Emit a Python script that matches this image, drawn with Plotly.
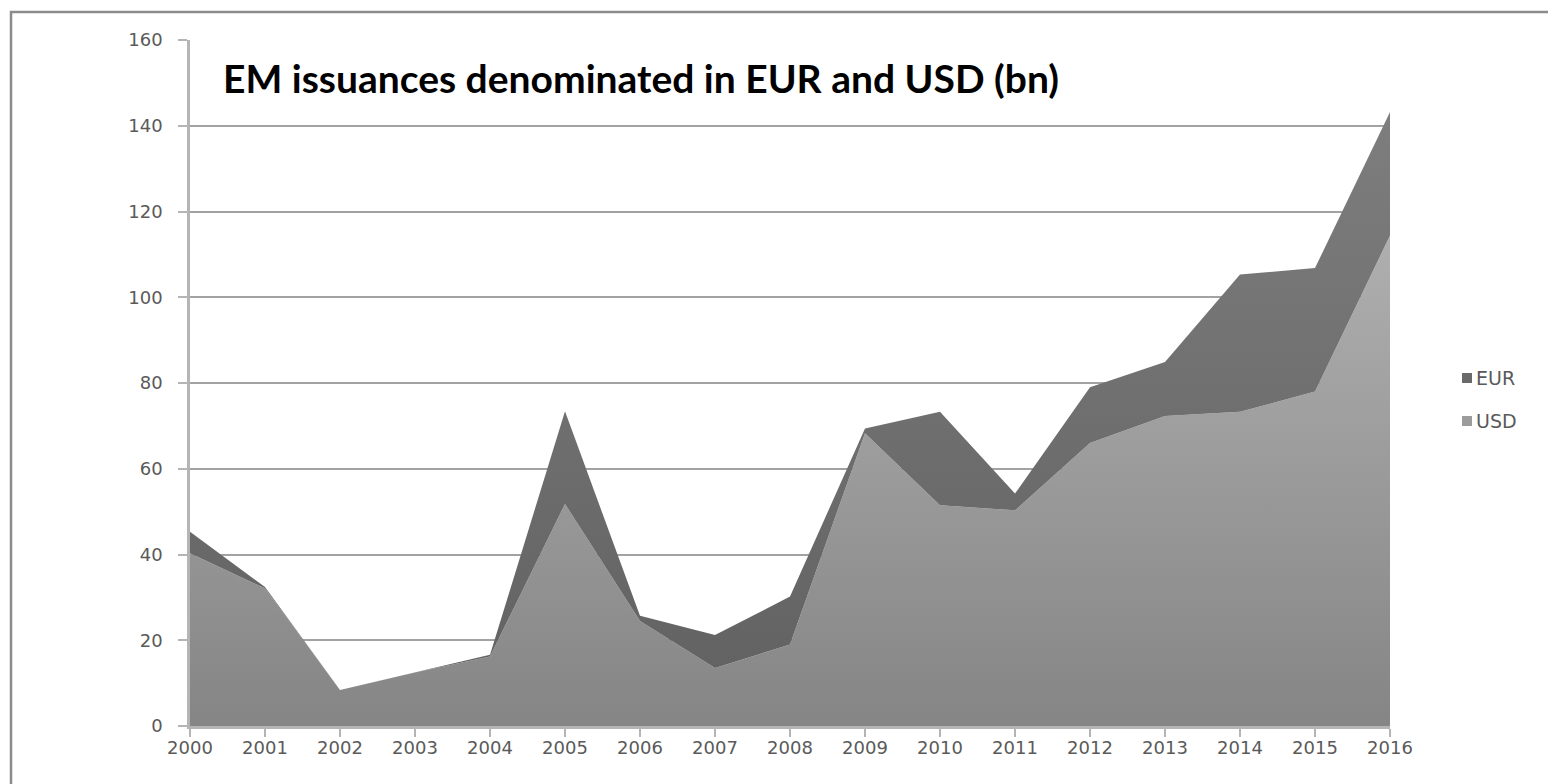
import plotly.graph_objects as go

years = list(range(2000, 2017))
usd = [40.3, 32.1, 8.4, 12.5, 16.2, 51.8, 24.5, 13.5, 19.0, 68.3, 51.5, 50.3, 66.0, 72.3, 73.3, 78.0, 114.4]
eur = [5.0, 0.3, 0.0, 0.0, 0.4, 21.6, 1.2, 7.7, 11.2, 1.1, 21.8, 3.9, 13.0, 12.6, 32.0, 28.8, 28.8]
series_names = ["EUR", "USD"]
title_text = "EM issuances denominated in EUR and USD (bn)"

W, H = 1548, 784
L, R, T, B = 190, 1390, 40, 726

def px(x):
    return (x - L) / (R - L)

def py(y):
    return (B - y) / (B - T)

fig = go.Figure()
fig.add_trace(go.Scatter(
    x=years, y=usd, name="USD", stackgroup="one", mode="lines",
    line=dict(width=0, color="#999999"),
    fillgradient=dict(type="vertical", start=0, stop=120,
                      colorscale=[[0, "#858585"], [1, "#b1b1b1"]]),
    showlegend=False,
))
fig.add_trace(go.Scatter(
    x=years, y=eur, name="EUR", stackgroup="one", mode="lines",
    line=dict(width=0, color="#6e6e6e"),
    fillgradient=dict(type="vertical", start=0, stop=145,
                      colorscale=[[0, "#606060"], [1, "#7e7e7e"]]),
    showlegend=False,
))

axis_font = dict(family="DejaVu Sans", size=18, color="#5a5a5a")

fig.update_xaxes(
    range=[2000, 2016], tickvals=years, ticktext=[str(y) for y in years],
    showgrid=False, zeroline=False, showline=True, linecolor="#b5b5b5", linewidth=2.5,
    ticks="outside", ticklen=8, tickwidth=2, tickcolor="#b5b5b5",
    tickfont=axis_font, ticklabelstandoff=-4,
)
fig.update_yaxes(
    range=[0, 160], dtick=20, showgrid=True, gridcolor="#a2a2a2", gridwidth=1.6,
    zeroline=False, showline=True, linecolor="#b5b5b5", linewidth=2.5,
    ticks="outside", ticklen=9, tickwidth=2, tickcolor="#b5b5b5",
    tickfont=axis_font, ticklabelstandoff=12,
)

shapes = [
    dict(type="rect", xref="paper", yref="paper",
         x0=px(11), x1=px(1600), y0=py(830), y1=py(12),
         line=dict(color="#8c8c8c", width=2.5), fillcolor="rgba(0,0,0,0)", layer="below"),
]
annotations = [
    dict(text=title_text, xref="paper", yref="paper", x=px(221), y=py(78),
         xanchor="left", yanchor="middle", showarrow=False,
         font=dict(family="Lato", size=39, color="#000000", weight="bold")),
]
legend_colors = {"EUR": "#6a6a6a", "USD": "#9c9c9c"}
legend_y = {"EUR": 378, "USD": 421}
for name in series_names:
    yc = legend_y[name]
    shapes.append(dict(type="rect", xref="paper", yref="paper",
                       x0=px(1462), x1=px(1472), y0=py(yc + 5), y1=py(yc - 5),
                       line=dict(width=0), fillcolor=legend_colors[name]))
    annotations.append(dict(text=name, xref="paper", yref="paper", x=px(1474), y=py(yc),
                            xanchor="left", yanchor="middle", showarrow=False,
                            font=dict(family="DejaVu Sans", size=19, color="#5a5a5a")))

fig.update_layout(
    width=W, height=H,
    margin=dict(l=L, r=W - R, t=T, b=H - B, pad=0),
    paper_bgcolor="white", plot_bgcolor="white",
    shapes=shapes, annotations=annotations,
    showlegend=False,
)

fig.write_html("out.html")
